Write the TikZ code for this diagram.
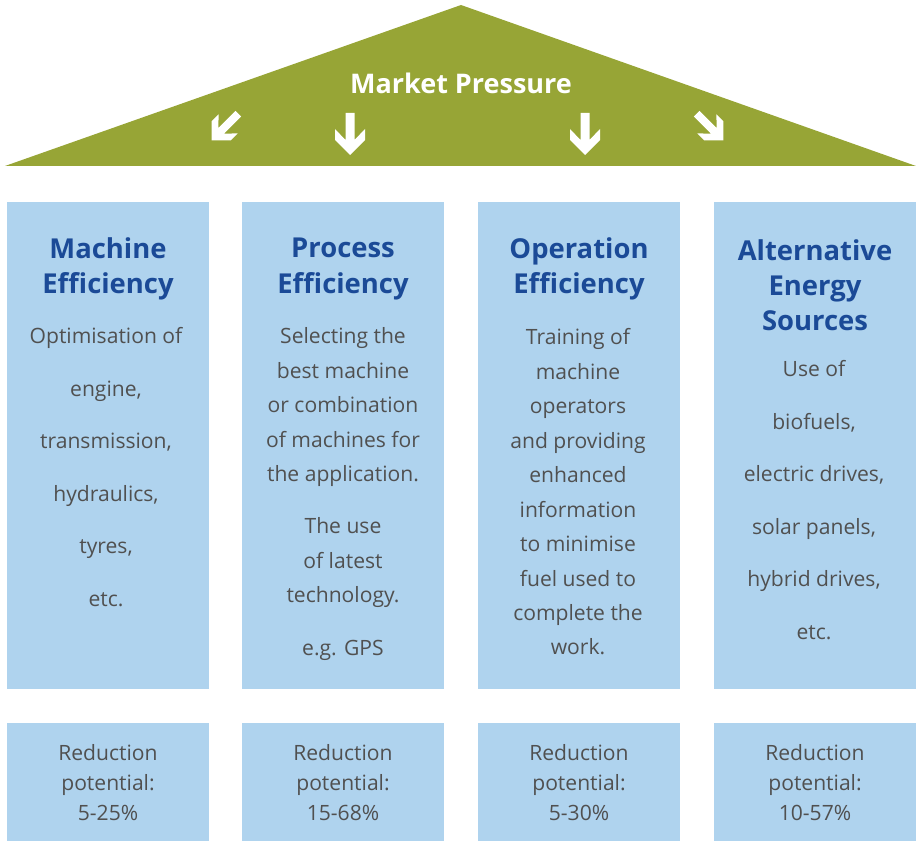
\documentclass[tikz,border=0pt]{standalone}
\usepackage{fontspec}
\setmainfont{Open Sans}
\definecolor{roofgreen}{HTML}{97A536}
\definecolor{pillarblue}{HTML}{AFD3EE}
\definecolor{headblue}{HTML}{1B4A97}
\definecolor{bodygrey}{HTML}{505050}
\tikzset{
  pillar/.style={fill=pillarblue, inner sep=0pt, anchor=north west,
    minimum width=5.05cm, minimum height=12.175cm},
  base/.style={fill=pillarblue, inner sep=0pt, anchor=north west,
    minimum width=5.05cm, minimum height=2.95cm},
  head/.style={text=headblue, align=center, inner sep=0pt,
    font=\bfseries\fontsize{19.5}{24.9}\selectfont},
  body/.style={text=bodygrey, align=center, inner sep=0pt,
    font=\fontsize{15}{24.5}\selectfont},
  redux/.style={text=bodygrey, align=center, inner sep=0pt,
    font=\fontsize{15}{21.3}\selectfont},
  pressarrow/.pic={
    \fill[white] (-4.5,-21) -- (4.5,-21) -- (4.5,6) -- (15,-5) -- (15,6)
      -- (0,21) -- (-15,6) -- (-15,-5) -- (-4.5,6) -- cycle;
  }
}

\begin{document}
\begin{tikzpicture}[x=0.025cm,y=-0.025cm]
  \useasboundingbox (0,0) rectangle (916,841);
  % roof
  \fill[roofgreen] (5,166) -- (461,5) -- (916,166) -- cycle;
  \node[text=white, font=\bfseries\fontsize{19.2}{22}\selectfont] (mp) at (461,83) {Market Pressure};
  \pic[rotate=-45, scale=0.9] at (225,127) {pressarrow};
  \pic at (350,134) {pressarrow};
  \pic at (585,134) {pressarrow};
  \pic[rotate=45, scale=0.9] at (710,127) {pressarrow};
  % pillars
  \node[pillar] (c1) at (7,202) {};
  \node[pillar] (c2) at (242,202) {};
  \node[pillar] (c3) at (478,202) {};
  \node[pillar] (c4) at (714,202) {};
  \node[base] (d1) at (7,723) {};
  \node[base] (d2) at (242,723) {};
  \node[base] (d3) at (478,723) {};
  \node[base] (d4) at (714,723) {};
  % titles
  \node[head] (t1) at (108,269) {Machine\\Efficiency};
  \node[head] (t2) at (343,269) {Process\\Efficiency};
  \node[head] (t3) at (579,269) {Operation\\Efficiency};
  \node[head] (t4) at (815,285) {Alternative\\Energy\\Sources};
  % texts
  \node[body] (b1) at (106,467) {Optimisation of\\[12.8pt] engine,\\[12.8pt]
    transmission,\\[12.8pt] hydraulics,\\[12.8pt] tyres,\\[12.8pt] etc.};
  \node[body] (b2) at (343,494) {Selecting the\\ best machine\\ or combination\\
    of machines for\\ the application.\\[12.8pt] The use\\ of latest\\
    technology.\\[12.8pt] e.g. GPS};
  \node[body] (b3) at (578,492) {Training of\\ machine\\ operators\\ and providing\\
    enhanced\\ information\\ to minimise\\ fuel used to\\ complete the\\ work.};
  \node[body] (b4) at (814,500) {Use of\\[12.8pt] biofuels,\\[12.8pt] electric drives,\\[12.8pt]
    solar panels,\\[12.8pt] hybrid drives,\\[12.8pt] etc.};
  % reduction
  \node[redux] (r1) at (108,783) {Reduction\\ potential:\\ 5-25\%};
  \node[redux] (r2) at (343,783) {Reduction\\ potential:\\ 15-68\%};
  \node[redux] (r3) at (579,783) {Reduction\\ potential:\\ 5-30\%};
  \node[redux] (r4) at (815,783) {Reduction\\ potential:\\ 10-57\%};
\end{tikzpicture}
\end{document}
